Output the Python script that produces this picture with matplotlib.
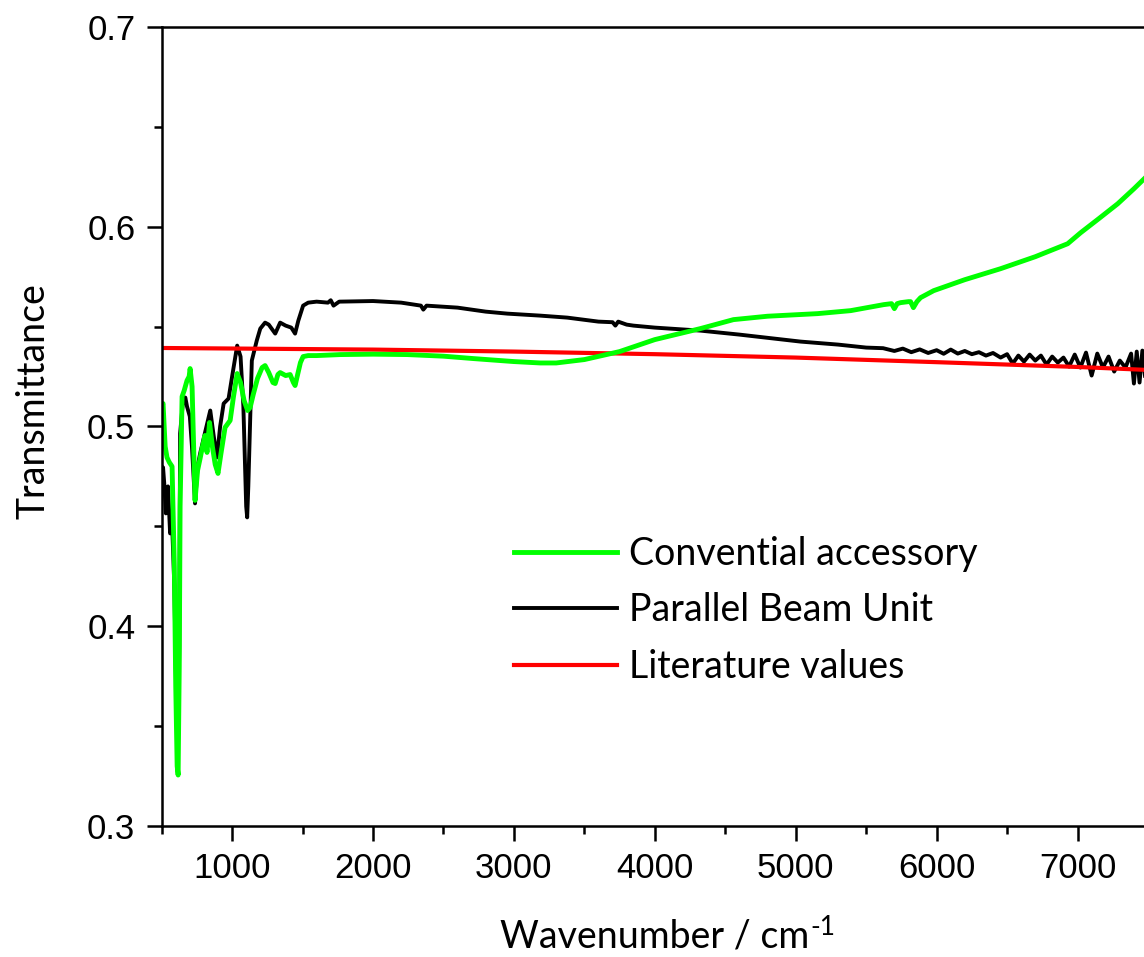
import numpy as np
import matplotlib
matplotlib.use('Agg')
import matplotlib.pyplot as plt
from matplotlib.ticker import MultipleLocator

# Conventional accessory (green)
green_x = [500, 510, 525, 538, 555, 574, 590, 600, 610, 617,
           625, 631, 645, 660, 680, 695, 702, 716, 737, 755,
           773, 790, 808, 822, 840, 860, 880, 900, 920, 950,
           986, 1010, 1036, 1060, 1085, 1110, 1128, 1150, 1180, 1213,
           1234, 1260, 1290, 1306, 1325, 1341, 1380, 1412, 1435, 1447,
           1465, 1485, 1504, 1540, 1600, 1768, 2000, 2243, 2500, 2712,
           3000, 3187, 3300, 3500, 3750, 4000, 4323, 4558, 4800, 5155,
           5390, 5624, 5680, 5700, 5720, 5744, 5800, 5815, 5835, 5860,
           5886, 5979, 6200, 6454, 6700, 6930, 7022, 7150, 7285, 7400,
           7480, 7600]
green_y = [0.510, 0.5115, 0.490, 0.4845, 0.482, 0.480, 0.430, 0.370, 0.330, 0.3255,
           0.380, 0.460, 0.515, 0.518, 0.523, 0.525, 0.529, 0.520, 0.463, 0.478,
           0.484, 0.490, 0.4955, 0.487, 0.502, 0.490, 0.481, 0.4765, 0.486, 0.4995,
           0.503, 0.515, 0.5265, 0.522, 0.513, 0.508, 0.5095, 0.516, 0.524, 0.5295,
           0.5305, 0.527, 0.522, 0.5215, 0.526, 0.527, 0.5255, 0.526, 0.522, 0.5205,
           0.526, 0.532, 0.535, 0.5355, 0.5355, 0.536, 0.5362, 0.536, 0.5352, 0.534,
           0.5325, 0.5318, 0.5318, 0.5335, 0.5375, 0.5435, 0.549, 0.5535, 0.5552, 0.5565,
           0.558, 0.561, 0.5615, 0.559, 0.5615, 0.562, 0.5625, 0.5625, 0.5595, 0.5625,
           0.5645, 0.568, 0.5735, 0.579, 0.585, 0.5915, 0.597, 0.604, 0.6115, 0.619,
           0.6245, 0.632]

# Parallel Beam Unit (black)
black_x = [500, 510, 520, 530, 545, 560, 575, 590, 605, 615,
           625, 631, 650, 668, 680, 700, 715, 737, 755, 773,
           808, 845, 870, 893, 915, 940, 975, 1000, 1036, 1060,
           1080, 1100, 1107, 1115, 1140, 1175, 1200, 1234, 1260, 1306,
           1341, 1380, 1420, 1447, 1470, 1504, 1540, 1600, 1680, 1700,
           1720, 1760, 2000, 2200, 2340, 2357, 2380, 2600, 2800, 2953,
           3187, 3379, 3600, 3700, 3720, 3740, 3800, 3848, 4000, 4323,
           4600, 5034, 5300, 5500, 5620, 5700, 5760, 5820, 5880, 5940,
           6000, 6050, 6100, 6150, 6200, 6250,
           6300, 6350, 6400, 6454, 6500, 6540, 6580, 6620, 6660, 6700,
           6740, 6780, 6820, 6860, 6900, 6940, 6980, 7020, 7060, 7100,
           7140, 7180, 7220, 7260, 7300, 7340, 7380, 7400, 7420, 7440,
           7460, 7480, 7500, 7540, 7600]
black_y = [0.480, 0.4795, 0.470, 0.4565, 0.470, 0.4465, 0.450, 0.420, 0.360, 0.335,
           0.390, 0.4965, 0.5115, 0.5145, 0.510, 0.505, 0.490, 0.4615, 0.480, 0.4865,
           0.497, 0.508, 0.495, 0.4845, 0.500, 0.5115, 0.514, 0.525, 0.5405, 0.535,
           0.510, 0.460, 0.4545, 0.470, 0.533, 0.543, 0.549, 0.552, 0.551, 0.5465,
           0.552, 0.5505, 0.5495, 0.5465, 0.553, 0.5605, 0.562, 0.5625, 0.562, 0.5632,
           0.5605, 0.5625, 0.5628, 0.562, 0.5605, 0.5585, 0.5605, 0.5595, 0.5575, 0.5565,
           0.5555, 0.5545, 0.5525, 0.5522, 0.5505, 0.5525, 0.551, 0.5505, 0.5495, 0.548,
           0.546, 0.5425, 0.541, 0.5395, 0.5392, 0.5378, 0.539, 0.5372, 0.5386, 0.5368,
           0.5382, 0.5364, 0.5385, 0.5365, 0.5378, 0.5362,
           0.5372, 0.5355, 0.5368, 0.5345, 0.5362, 0.5315, 0.5355, 0.5325, 0.536, 0.533,
           0.5355, 0.531, 0.535, 0.532, 0.5345, 0.530, 0.536, 0.5295, 0.537, 0.5255,
           0.5365, 0.5295, 0.535, 0.5275, 0.533, 0.5295, 0.5365, 0.5215, 0.5375, 0.522,
           0.538, 0.5245, 0.5335, 0.528, 0.534]

# Literature values (red)
red_x = [500, 2000, 3000, 4000, 5000, 6000, 7000, 7600]
red_y = [0.5393, 0.5385, 0.5375, 0.5362, 0.5345, 0.5322, 0.5298, 0.528]

labels = ['Convential accessory', 'Parallel Beam Unit', 'Literature values']

fig = plt.figure(figsize=(11.44, 9.57), dpi=100)
# right spine falls just outside the picture, as in the original crop
ax = fig.add_axes([0.1413, 0.1369, 0.8622, 0.8349])

l_black, = ax.plot(black_x, black_y, color='black', lw=2.8)
l_red, = ax.plot(red_x, red_y, color='#ff0000', lw=3.0)
l_green, = ax.plot(green_x, green_y, color='#00ff00', lw=3.5)

ax.set_xlim(500, 7500)
ax.set_ylim(0.3, 0.7)
ax.xaxis.set_minor_locator(MultipleLocator(500))
ax.yaxis.set_major_locator(MultipleLocator(0.1))
ax.yaxis.set_minor_locator(MultipleLocator(0.05))
ax.set_xticks([1000, 2000, 3000, 4000, 5000, 6000, 7000])

for s in ax.spines.values():
    s.set_linewidth(1.8)
ax.tick_params(which='major', direction='out', length=11, width=1.8,
               labelsize=25, pad=8)
ax.tick_params(which='minor', direction='out', length=5.5, width=1.8)
for t in ax.get_xticklabels() + ax.get_yticklabels():
    t.set_fontfamily('Liberation Sans')

ax.set_xlabel('Wavenumber / cm', fontsize=27, family='Lato', labelpad=24)
ax.set_ylabel('Transmittance', fontsize=27, family='Lato')
ax.yaxis.set_label_coords(-0.112, 0.532)

# superscript "-1" with a plain hyphen, placed after the x label
fig.canvas.draw()
bb = ax.xaxis.label.get_window_extent()
fig.text(bb.x1 / fig.bbox.width + 0.001, bb.y1 / fig.bbox.height + 0.004, '-1',
         fontsize=19, family='Lato', ha='left', va='top')

leg = ax.legend([l_green, l_black, l_red], labels, frameon=False,
                loc='upper left', bbox_to_anchor=(0.42, 0.475),
                bbox_transform=fig.transFigure,
                prop={'family': 'Lato', 'size': 27},
                handlelength=2.75, handletextpad=0.3, labelspacing=0.54)

fig.savefig('out.png', dpi=100)
